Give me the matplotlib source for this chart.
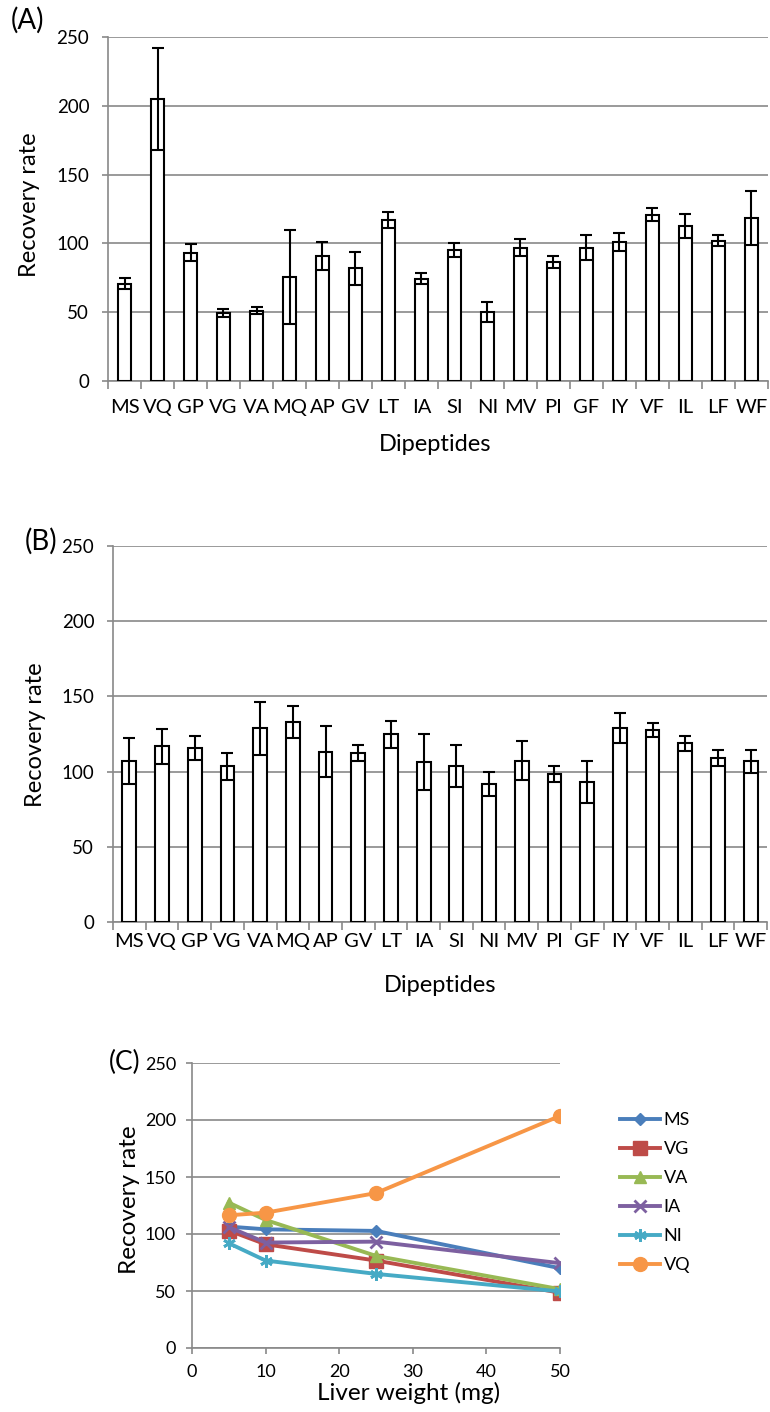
import numpy as np
import matplotlib
matplotlib.use("Agg")
import matplotlib.pyplot as plt

plt.rcParams['font.family'] = ['Lato', 'DejaVu Sans']

# dati
dipeptidi = ['MS', 'VQ', 'GP', 'VG', 'VA', 'MQ', 'AP', 'GV', 'LT', 'IA',
             'SI', 'NI', 'MV', 'PI', 'GF', 'IY', 'VF', 'IL', 'LF', 'WF']

# (A)
rec_a = [70.5, 204.7, 93.3, 49.5, 51.2, 75.7, 90.7, 82.0, 117.0, 74.4,
         95.3, 50.0, 97.0, 86.3, 97.0, 100.8, 121.0, 112.7, 102.0, 118.5]
err_a = [4.0, 37.0, 6.0, 3.0, 2.7, 34.0, 10.0, 12.0, 5.8, 4.2,
         5.0, 7.3, 6.3, 4.4, 9.0, 6.5, 4.4, 8.6, 4.0, 19.7]

# (B)
rec_b = [106.9, 116.9, 115.8, 103.6, 128.7, 133.1, 113.1, 112.4, 124.7, 106.2,
         103.6, 91.8, 107.3, 98.4, 92.9, 129.1, 127.6, 118.7, 109.1, 106.9]
err_b = [15.4, 11.7, 7.8, 9.0, 17.5, 10.7, 17.0, 5.3, 9.0, 18.6,
         14.0, 8.0, 13.0, 5.6, 14.0, 10.0, 4.7, 5.0, 5.2, 7.5]

# (C)
peso_fegato = [5, 10, 25, 50]
serie_c = ['MS', 'VG', 'VA', 'IA', 'NI', 'VQ']
ms_c = [106.5, 104.1, 102.7, 70.0]
vg_c = [103.0, 91.0, 76.7, 48.5]
va_c = [127.5, 112.3, 80.8, 51.6]
ia_c = [106.0, 92.5, 93.3, 74.4]
ni_c = [91.9, 76.7, 65.0, 49.6]
vq_c = [116.4, 118.7, 135.9, 203.6]

colori = ['#4A7EBB', '#BE4B48', '#98B954', '#7D60A0', '#46AAC5', '#F79646']
marker = ['D', 's', '^', 'x', (6, 2, 0), 'o']
msize = [6, 10, 9, 8, 9, 10]

grigio = '#898989'

W, H = 770, 1412
fig = plt.figure(figsize=(W / 100, H / 100), dpi=100)


def testo(x, y, s, **kw):
    # posizione in pixel dall'alto a sinistra
    fig.text(x / W, 1 - y / H, s, ha='center', va='center', **kw)


def stile_assi(ax):
    for s in ['top', 'right']:
        ax.spines[s].set_visible(False)
    ax.spines['left'].set_color(grigio)
    ax.spines['bottom'].set_color(grigio)
    ax.spines['left'].set_linewidth(1.2)
    ax.spines['bottom'].set_linewidth(1.2)
    ax.yaxis.grid(True, color=grigio, linewidth=1.2)
    ax.set_axisbelow(True)
    ax.tick_params(axis='both', which='both', color=grigio, width=1.2, length=4.5)


def grafico_barre(ax, valori, errori, pad_x):
    x = np.arange(len(dipeptidi))
    ax.bar(x, valori, width=0.42, color='white', edgecolor='black', linewidth=1.5,
           yerr=errori, error_kw=dict(ecolor='black', elinewidth=1.5, capsize=4, capthick=1.5),
           zorder=3)
    stile_assi(ax)
    ax.set_xlim(-0.5, len(dipeptidi) - 0.5)
    ax.set_ylim(0, 250)
    ax.set_yticks(np.arange(0, 251, 50))
    ax.set_xticks(x)
    ax.set_xticklabels(dipeptidi)
    ax.set_xticks(np.arange(-0.5, len(dipeptidi), 1), minor=True)
    ax.tick_params(axis='x', which='major', length=0, pad=pad_x, labelsize=14.5)
    ax.tick_params(axis='x', which='minor', length=6)
    ax.tick_params(axis='y', labelsize=13.5, pad=9)


axA = fig.add_axes([108 / W, 1 - 381 / H, 660 / W, 344 / H])
grafico_barre(axA, rec_a, err_a, 13)
testo(28, 20, '(A)', fontsize=20)
testo(30, 205, 'Recovery rate', fontsize=17, rotation=90)
testo(435, 445, 'Dipeptides', fontsize=17)

axB = fig.add_axes([113 / W, 1 - 922 / H, 654 / W, 376 / H])
grafico_barre(axB, rec_b, err_b, 8)
testo(41, 541, '(B)', fontsize=20)
testo(35, 735, 'Recovery rate', fontsize=17, rotation=90)
testo(440, 985, 'Dipeptides', fontsize=17)

# (C) grafico a linee
axC = fig.add_axes([192 / W, 1 - 1348 / H, 368 / W, 285 / H])
valori_c = [ms_c, vg_c, va_c, ia_c, ni_c, vq_c]
for nome, val, col, mk, ms in zip(serie_c, valori_c, colori, marker, msize):
    mew = 2 if mk in ('x', (6, 2, 0)) else 1
    axC.plot(peso_fegato, val, color=col, linewidth=2.8, marker=mk, markersize=ms,
             markeredgewidth=mew, label=nome, zorder=3)
stile_assi(axC)
axC.set_xlim(0, 50)
axC.set_ylim(0, 250)
axC.set_xticks(np.arange(0, 51, 10))
axC.set_yticks(np.arange(0, 251, 50))
axC.tick_params(axis='both', labelsize=13, pad=7)
testo(125, 1062, '(C)', fontsize=19)
testo(130, 1200, 'Recovery rate', fontsize=17.5, rotation=90)
testo(409, 1393, 'Liver weight (mg)', fontsize=17.5)
leg = axC.legend(loc='upper left', bbox_to_anchor=(1.12, 0.885), frameon=False, fontsize=13,
                 handlelength=2.2, labelspacing=0.72, handletextpad=0.2)

fig.savefig('out.png', dpi=100)
